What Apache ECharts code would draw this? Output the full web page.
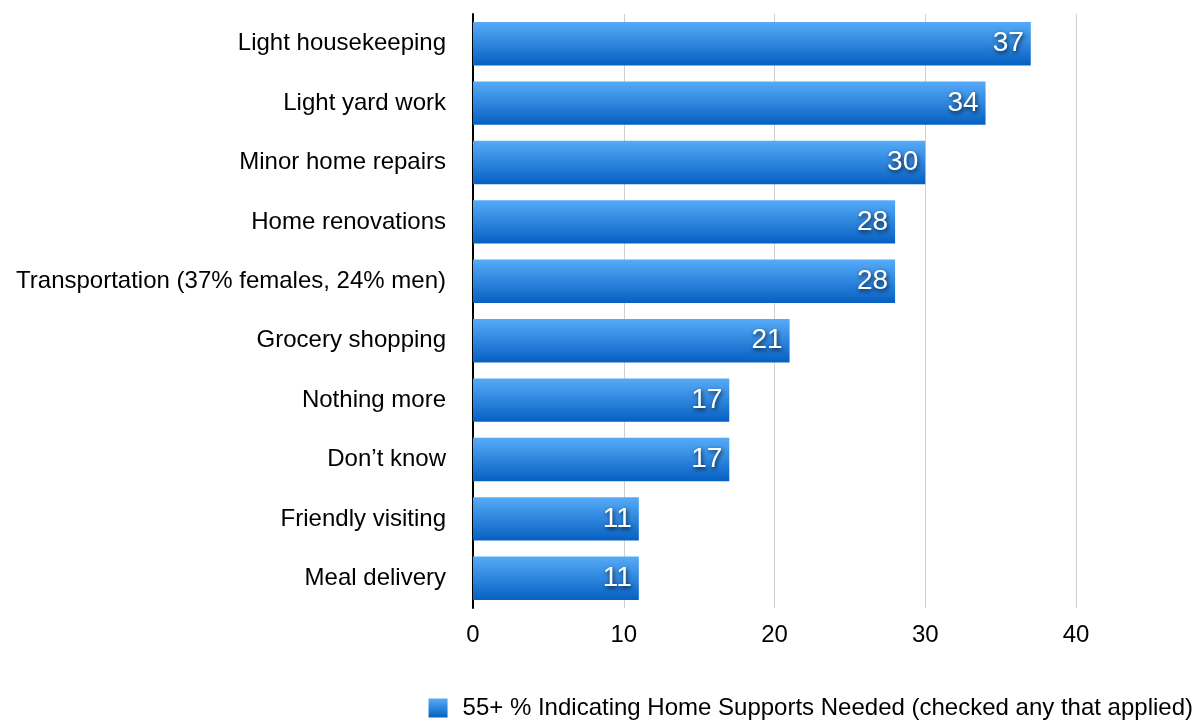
<!DOCTYPE html>
<html>
<head>
<meta charset="utf-8">
<script src="https://cdn.jsdelivr.net/npm/echarts@6/dist/echarts.min.js"></script>
<style>
  html, body { margin: 0; padding: 0; background: #fff; }
  #main { width: 1201px; height: 728px; }
</style>
</head>
<body>
<div id="main"></div>
<script>
// categories, top to bottom
var categories = [
  'Light housekeeping',
  'Light yard work',
  'Minor home repairs',
  'Home renovations',
  'Transportation (37% females, 24% men)',
  'Grocery shopping',
  'Nothing more',
  'Don\u2019t know',
  'Friendly visiting',
  'Meal delivery'
];
var values = [37, 34, 30, 28, 28, 21, 17, 17, 11, 11];
var xTicks = [0, 10, 20, 30, 40];
var seriesName = '55+ % Indicating Home Supports Needed (checked any that applied)';

var font = '"Liberation Sans", Arial, Helvetica, sans-serif';
var barColor = new echarts.graphic.LinearGradient(0, 0, 0, 1, [
  { offset: 0, color: '#56abf8' },
  { offset: 1, color: '#0660c2' }
]);

var chart = echarts.init(document.getElementById('main'));
chart.setOption({
  animation: false,
  grid: { left: 473, right: 125, top: 14, bottom: 120 },
  legend: {
    right: 3,
    bottom: 3,
    itemWidth: 19,
    itemHeight: 19,
    textStyle: { fontFamily: font, fontSize: 24, color: '#000', padding: [0, 0, 0, 10] },
    data: [{ name: seriesName, icon: 'rect' }]
  },
  xAxis: {
    type: 'value',
    min: xTicks[0],
    max: xTicks[xTicks.length - 1],
    interval: 10,
    axisLine: { show: false },
    axisTick: { show: false },
    splitLine: { lineStyle: { color: '#cfcfcf', width: 1 } },
    axisLabel: { fontFamily: font, fontSize: 24, color: '#000', margin: 15 }
  },
  yAxis: {
    type: 'category',
    inverse: true,
    data: categories,
    axisLine: { lineStyle: { color: '#000', width: 2 } },
    axisTick: { show: false },
    axisLabel: { fontFamily: font, fontSize: 24, color: '#000', margin: 27 }
  },
  series: [{
    name: seriesName,
    type: 'bar',
    data: values,
    barCategoryGap: '27%',
    itemStyle: { color: barColor },
    label: {
      show: true,
      position: 'insideRight',
      distance: 7,
      fontFamily: font,
      fontSize: 28,
      color: '#fff',
      textShadowColor: 'rgba(0,0,0,0.75)',
      textShadowBlur: 4,
      textShadowOffsetX: 1,
      textShadowOffsetY: 2
    }
  }]
});
</script>
</body>
</html>
